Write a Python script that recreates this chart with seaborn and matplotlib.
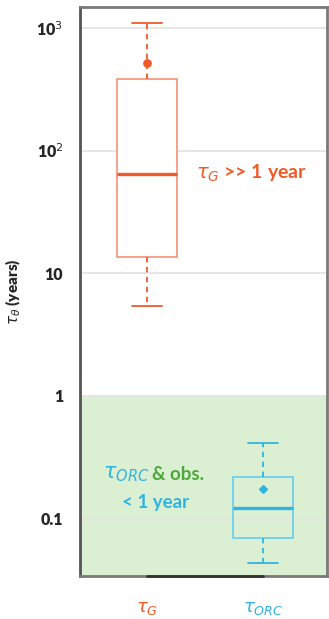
import numpy as np
import pandas as pd
import matplotlib
matplotlib.use("Agg")
import matplotlib.pyplot as plt
import seaborn as sns

# five-number summaries (years)
groups = ["G", "ORC"]
g_stats = [5.4, 13.5, 65.0, 384.0, 1100.0]     # whisker low, q1, median, q3, whisker high
orc_stats = [0.043, 0.069, 0.121, 0.22, 0.41]
means = [518.0, 0.173]
tick_labels = [r"$\tau_G$", r"$\tau_{ORC}$"]

orange = "#f05a28"
orange_lt = "#f59a82"
blue = "#2fb4e0"
blue_lt = "#6cd0ee"
green_txt = "#4ea63a"
green_bg = "#dbefd3"

df = pd.DataFrame({
    "group": ["G"] * len(g_stats) + ["ORC"] * len(orc_stats),
    "tau": g_stats + orc_stats,
})

sns.set_style("white")
plt.rcParams["font.family"] = ["Lato", "DejaVu Sans"]

fig = plt.figure(figsize=(3.29, 6.19), dpi=100)
ax = fig.add_axes([0.243, 0.0695, 0.751, 0.919])

ax.set_yscale("log")
ax.axhspan(1e-3, 1, color=green_bg, zorder=0)
for v in [0.1, 1, 10, 100, 1000]:
    ax.axhline(v, color="#e4e4e4", lw=1.3, zorder=0.5)

styles = {"G": (orange_lt, orange, "white"), "ORC": (blue_lt, blue, "none")}
for g in groups:
    lt, dk, face = styles[g]
    sns.boxplot(data=df[df["group"] == g], x="group", y="tau", order=groups,
                whis=np.inf, width=0.52, ax=ax, linewidth=1.3,
                boxprops={"facecolor": face, "edgecolor": lt, "linewidth": 1.3},
                medianprops={"color": dk, "linewidth": 2.4},
                whiskerprops={"color": dk, "linestyle": (0, (3, 2.5)), "linewidth": 1.3},
                capprops={"color": dk, "linewidth": 1.3})

ax.scatter([0], [means[0]], marker="o", s=28, color=orange, zorder=5)
ax.scatter([1], [means[1]], marker="D", s=16, color=blue, zorder=5)

ax.set_ylim(0.034, 1480)
ax.set_xlim(-0.58, 1.55)
ax.set_yticks([0.1, 1, 10, 100, 1000])
ax.set_yticklabels(["0.1", "1", "10", r"10$^2$", r"10$^3$"], fontsize=11.5, fontweight="heavy")
ax.minorticks_off()
ax.set_xticks([0, 1])
ax.set_xticklabels(tick_labels, fontsize=13)
for t, c in zip(ax.get_xticklabels(), [orange, blue]):
    t.set_color(c)
ax.tick_params(axis="x", length=9, width=1.6, color="#333333", pad=8)
ax.tick_params(axis="y", length=8, width=1.6, color="#555555", pad=4)
ax.set_xlabel("")
ax.set_ylabel(r"$\tau_\theta$ (years)", fontsize=11, fontweight="heavy", labelpad=10)

for s in ["top", "right", "left", "bottom"]:
    ax.spines[s].set_visible(True)
    ax.spines[s].set_color("#7a7a7a")
    ax.spines[s].set_linewidth(2)
ax.spines["left"].set_color("#555555")
ax.plot([0, 1], [0.034, 0.034], color="#333333", lw=2, clip_on=False, zorder=6)

ax.text(0.42, 65, r"$\tau_G$ >> 1 year", color=orange, fontsize=14,
        fontweight="bold", ha="left", va="center")
ax.text(0.02, 0.229, r"$\tau_{ORC}$", color=blue, fontsize=15, ha="right", va="center")
ax.text(0.04, 0.229, "& obs.", color=green_txt, fontsize=13.5, fontweight="bold",
        ha="left", va="center")
ax.text(0.07, 0.135, "< 1 year", color=blue, fontsize=13.5, fontweight="bold",
        ha="center", va="center")

fig.savefig("out.png", dpi=100)
